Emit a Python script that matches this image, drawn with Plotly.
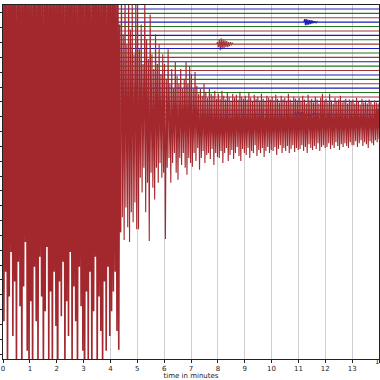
import numpy as np
import plotly.graph_objects as go

# ---------------- data ----------------
minute_ticks = list(range(15))
n_lines = 27                      # number of day-plot rows (0 = top)
quake_line = 26                   # row holding the big earthquake
px_per_unit = 4.45                # amplitude counts per row spacing

# big quake: alternating positive peaks (up) and troughs (down), 15 of each per minute
quake_up = [
    150, 140, 160, 135, 155, 145, 165, 130, 150, 140, 158, 138, 148, 162, 142,
    155, 132, 160, 145, 138, 166, 150, 128, 152, 144, 160, 136, 158, 142, 150,
    140, 162, 134, 156, 148, 130, 160, 146, 138, 164, 150, 132, 154, 140, 158,
    146, 136, 160, 150, 128, 156, 142, 164, 138, 150, 134, 158, 144, 130, 152,
    150, 140, 155, 135, 145, 100, 150, 90, 140, 80, 135, 95, 125, 70, 130,
    120, 75, 100, 60, 125, 85, 65, 110, 70, 55, 90, 60, 80, 50, 70,
    60, 45, 75, 40, 55, 35, 62, 48, 40, 55, 35, 45, 62, 40, 58,
    50, 35, 52, 38, 30, 35, 28, 40, 32, 26, 35, 30, 28, 33, 25,
    30, 25, 33, 28, 24, 31, 27, 22, 30, 26, 29, 24, 32, 27, 25,
    28, 24, 31, 26, 22, 29, 25, 27, 23, 30, 25, 22, 28, 26, 24,
    27, 23, 29, 25, 21, 28, 24, 26, 22, 30, 24, 21, 27, 25, 23,
    26, 22, 28, 24, 20, 29, 23, 25, 21, 27, 24, 20, 26, 30, 23,
    25, 21, 30, 23, 20, 26, 22, 24, 28, 21, 23, 25, 20, 24, 22,
    24, 20, 26, 22, 19, 25, 21, 23, 20, 24, 22, 19, 23, 21, 20,
]
quake_down = [
    200, 150, 260, 175, 130, 215, 160, 250, 140, 185, 260, 165, 120, 230, 255,
    180, 265, 145, 200, 250, 135, 175, 260, 190, 125, 240, 170, 255, 150, 205,
    260, 160, 195, 140, 255, 180, 215, 130, 250, 165, 200, 262, 145, 185, 230,
    255, 170, 240, 150, 262, 190, 135, 258, 175, 210, 250, 160, 230, 145, 215,
    190, 170, 150, 210, 229, 110, 95, 118, 85, 105, 120, 90, 100, 80, 107,
    107, 55, 70, 45, 90, 60, 119, 50, 65, 77, 45, 60, 40, 55, 50,
    117, 45, 35, 60, 40, 30, 50, 57, 35, 42, 30, 45, 52, 35, 40,
    44, 30, 38, 25, 47, 35, 28, 40, 32, 30, 36, 26, 42, 30, 34,
    35, 28, 40, 30, 25, 38, 32, 27, 36, 30, 24, 33, 38, 26, 30,
    32, 25, 35, 28, 30, 22, 33, 27, 30, 25, 34, 28, 24, 30, 27,
    28, 24, 32, 26, 22, 30, 25, 28, 23, 30, 26, 22, 29, 25, 27,
    26, 22, 28, 24, 30, 21, 25, 27, 23, 26, 20, 28, 24, 22, 25,
    24, 20, 26, 22, 25, 19, 23, 27, 21, 24, 20, 23, 25, 19, 22,
    22, 18, 24, 20, 17, 23, 19, 21, 25, 18, 20, 22, 17, 19, 16,
]

# small local events: (row, onset minute, sample step in minutes, amplitudes)
event_red_row, event_red_t0, event_red_dt = 8, 7.95, 0.035
event_red = [0, 2, -3, 5, -6, 6, -5, 5, -4, 4, -3, 3, -3, 2, -2, 2, -1, 1, 0]
event_blue1_row, event_blue1_t0, event_blue1_dt = 3, 11.2, 0.03
event_blue1 = [0, 3, -3, 3, -3, 2.5, -2.5, 2, -2, 2, -1.5, 1.5, -1, 1, -1, 1, -0.5, 0.5, 0]
event_blue2_row, event_blue2_t0, event_blue2_dt = 24, 10.85, 0.05
event_blue2 = [0, 3, -3, 3, -2.5, 2.5, -2, 2, -2, 1.5, -1.5, 1.5, -1, 1, -1, 1, -1,
               1, -0.8, 0.8, -0.6, 0.6, -0.5, 0.5, -0.4, 0.4, -0.3, 0.3, -0.2, 0.2, 0]
event_green_row, event_green_t0, event_green_dt = 25, 13.86, 0.012
event_green = [0, 5, -8, 10, -10, 11, -9, 10, -8, 9, -7, 8]

row_colors = ["#1c1cb4", "#1f7a1f", "#a3343a"]
quake_color = "#a3282e"
dense_until_minute = 4.35         # strong-motion part drawn with a heavier stroke

# ---------------- figure ----------------
fig = go.Figure()

events = {
    event_red_row: (event_red_t0, event_red_dt, event_red),
    event_blue1_row: (event_blue1_t0, event_blue1_dt, event_blue1),
    event_blue2_row: (event_blue2_t0, event_blue2_dt, event_blue2),
    event_green_row: (event_green_t0, event_green_dt, event_green),
}

for k in range(quake_line):
    xs = [0.0]
    ys = [0.0]
    if k in events:
        t0, dt, vals = events[k]
        for i, v in enumerate(vals):
            xs.append(t0 + i * dt)
            ys.append(v)
    xs.append(14.0)
    ys.append(0.0)
    fig.add_trace(go.Scatter(
        x=xs, y=[-k + v / px_per_unit for v in ys], mode="lines",
        line=dict(color=row_colors[k % 3], width=1.1, simplify=False),
        hoverinfo="skip", showlegend=False))

q_vals = []
for u, d in zip(quake_up, quake_down):
    q_vals.append(u)
    q_vals.append(-d)
q_t = np.linspace(0, 14, len(q_vals))
q_y = np.array([-quake_line + v / px_per_unit for v in q_vals])
split = int(np.searchsorted(q_t, dense_until_minute))
fig.add_trace(go.Scatter(
    x=q_t[:split + 1], y=q_y[:split + 1], mode="lines",
    line=dict(color=quake_color, width=1.6, simplify=False),
    hoverinfo="skip", showlegend=False))
fig.add_trace(go.Scatter(
    x=q_t[split:], y=q_y[split:], mode="lines",
    line=dict(color=quake_color, width=1.1, simplify=False),
    hoverinfo="skip", showlegend=False))

top_px, first_px, bottom_px = 5, 9, 363
y_top = -(top_px - first_px) / px_per_unit
y_bot = -(bottom_px - first_px) / px_per_unit

fig.update_layout(
    width=380, height=380,
    margin=dict(l=3, r=0, t=5, b=17),
    paper_bgcolor="white", plot_bgcolor="white",
    font=dict(family="DejaVu Sans", size=7, color="#222"),
)
fig.update_xaxes(
    range=[0, 14], tickmode="array", tickvals=minute_ticks,
    ticktext=[str(m) for m in minute_ticks],
    showgrid=True, gridcolor="#cfcfcf", gridwidth=1,
    showline=True, linecolor="#222", linewidth=1, mirror=True,
    ticks="outside", ticklen=3, tickcolor="#222", tickfont=dict(size=7),
    zeroline=False,
    title=dict(text="time in minutes", font=dict(size=7), standoff=2),
)
fig.update_yaxes(
    range=[y_bot, y_top], showticklabels=False,
    tick0=-(13 - first_px) / px_per_unit, dtick=15 / px_per_unit,
    ticks="outside", ticklen=3, tickcolor="#222",
    showgrid=False, zeroline=False,
    showline=True, linecolor="#222", linewidth=1, mirror=True,
)
# last tick label sits on the right edge and is cut by the canvas, as in the reference
fig.add_annotation(x=14, y=0, xref="x", yref="paper", text=str(minute_ticks[-1]),
                   showarrow=False, yshift=-9, xanchor="center",
                   font=dict(size=7, color="#222"))

fig.write_html("out.html")
